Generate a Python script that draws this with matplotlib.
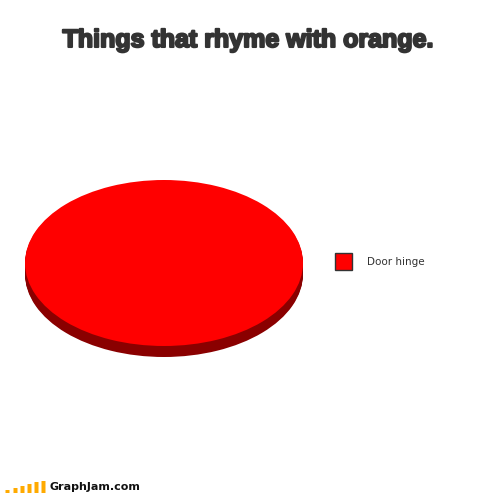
import matplotlib
matplotlib.use("Agg")
import matplotlib.pyplot as plt
import matplotlib.patheffects as pe
from matplotlib.patches import Rectangle

title = "Things that rhyme with orange."
labels = ["Door hinge"]
values = [100]
logo_bars = [3, 5, 7, 9, 11, 12]
logo_text = "GraphJam.com"

W, H = 500, 493
fig = plt.figure(figsize=(W / 100, H / 100), dpi=100, facecolor="white")

# page layer in pixels, y going down
bg = fig.add_axes([0, 0, 1, 1])
bg.set_xlim(0, W)
bg.set_ylim(H, 0)
bg.axis("off")

# pie axes, radius 1 = 139 x 83 px, centre (164, 263)
rx, ry = 139, 83
depth = 11
ax = fig.add_axes([(164 - rx) / W, (H - 263 - ry - depth) / H, 2 * rx / W, (2 * ry + depth) / H])
for d in range(depth, 0, -1):
    ax.pie(values, colors=["#8a0000"], center=(0, -d / ry), radius=1, startangle=90)
ax.pie(values, colors=["#ff0000"], center=(0, 0), radius=1, startangle=90)
ax.set_aspect("auto")
ax.set_xlim(-1, 1)
ax.set_ylim(-1 - depth / ry, 1)
ax.axis("off")

# no condensed heavy face installed, so smaller size and a stroke to fatten it
bg.text(248, 40, title, ha="center", va="center", fontsize=18, fontweight="bold",
        family="Liberation Sans", color="#333333",
        path_effects=[pe.withStroke(linewidth=1.5, foreground="#333333")])

# legend
bg.add_patch(Rectangle((335, 253), 17, 17, facecolor="#ff0000", edgecolor="#333333", linewidth=1))
bg.text(367, 262, labels[0], ha="left", va="center", fontsize=7.5, color="#333333",
        family="DejaVu Sans")

# logo
bars = bg.bar([7.5, 15.5, 22.5, 29.5, 36.5, 43.5], [-h for h in logo_bars], bottom=493, width=4,
              color="#ffaa00", align="center")
for b in bars:
    b.set_snap(False)
bg.text(49, 486.5, logo_text, ha="left", va="center", fontsize=8, fontweight="bold",
        color="#111111", family="DejaVu Sans")

fig.savefig("out.png", dpi=100, facecolor="white")
